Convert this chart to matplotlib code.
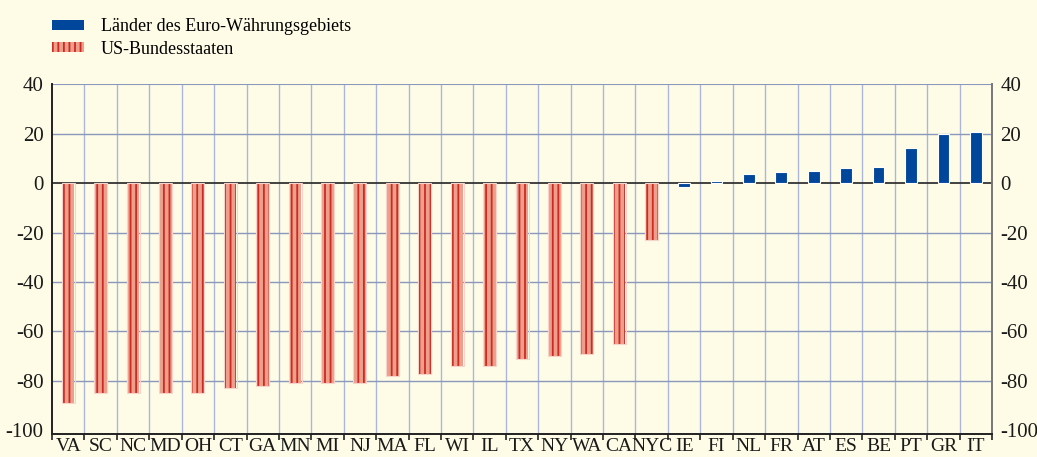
import matplotlib.pyplot as plt
import matplotlib.patches as mpatches
import numpy as np

# Veränderung in %, von links nach rechts
us_states = ["VA", "SC", "NC", "MD", "OH", "CT", "GA", "MN", "MI", "NJ",
             "MA", "FL", "WI", "IL", "TX", "NY", "WA", "CA", "NYC"]
us_values = [-89, -85, -85, -85, -85, -83, -82, -81, -81, -81,
             -78, -77, -74, -74, -71, -70, -69, -65, -23]

euro_countries = ["IE", "FI", "NL", "FR", "AT", "ES", "BE", "PT", "GR", "IT"]
euro_values = [-1.5, 1.0, 3.5, 4.5, 5.0, 6.0, 6.5, 14.0, 20.0, 20.5]

yticks = [40, 20, 0, -20, -40, -60, -80, -100]

bg = "#fefce6"
blue = "#00469b"
salmon = "#eca08c"
stripe = "#cc2a22"
grid_v = "#aab6dc"
grid_h = "#8c97bd"


def main():
   plt.rcParams['font.family'] = ['Liberation Serif', 'DejaVu Serif']
   plt.rcParams['hatch.linewidth'] = 1.3

   fig = plt.figure(figsize=(10.37, 4.57), dpi=100, facecolor=bg)
   ax = fig.add_axes([0.0502, 0.05, 0.9064, 0.766])
   ax.set_facecolor(bg)

   labels = us_states + euro_countries
   n = len(labels)
   x_us = np.arange(len(us_states))
   x_eu = np.arange(len(us_states), n)

   # grid
   for b in np.arange(1, n):
      ax.axvline(b - 0.5, color=grid_v, lw=1.0, zorder=1)
   for t in yticks:
      if t not in (0, -100, 40):
         ax.axhline(t, color=grid_h, lw=1.0, zorder=1)
   ax.axhline(40, color=grid_h, lw=1.5, zorder=1)

   ax.bar(x_us, us_values, width=0.38, color=salmon, edgecolor=stripe,
          hatch="|||", linewidth=0, zorder=3)
   ax.bar(x_us, us_values, width=0.40, facecolor="none", edgecolor="#f6d4cc",
          linewidth=0.8, zorder=3)
   ax.bar(x_eu, euro_values, width=0.36, color=blue, edgecolor="white",
          linewidth=0.8, zorder=3)

   ax.axhline(0, color="#333333", lw=1.3, zorder=2)

   ax.set_xlim(-0.5, n - 0.5)
   ax.set_ylim(-101.5, 40)

   ax.set_yticks(yticks)
   ax.set_yticklabels([str(t) for t in yticks], fontsize=15, color="#1a1a1a")
   ax.tick_params(axis="y", length=0, pad=6, right=True, labelright=True)

   ax.set_xticks(np.arange(n))
   ax.set_xticklabels(labels, fontsize=14, color="#1a1a1a")
   ax.set_xticks(np.arange(n + 1) - 0.5, minor=True)
   ax.tick_params(axis="x", which="major", length=0, pad=3)
   ax.tick_params(axis="x", which="minor", length=4, width=1.2, color="#222222", direction="out")

   ax.spines["top"].set_visible(False)
   ax.spines["left"].set_color("#222222")
   ax.spines["left"].set_linewidth(1.4)
   ax.spines["right"].set_color("#777777")
   ax.spines["right"].set_linewidth(1.4)
   ax.spines["bottom"].set_color("#222222")
   ax.spines["bottom"].set_linewidth(1.4)

   handles = [
      mpatches.Patch(facecolor=blue, edgecolor="none", label="Länder des Euro-Währungsgebiets"),
      mpatches.Patch(facecolor=salmon, edgecolor=stripe, hatch="|||", linewidth=0,
                     label="US-Bundesstaaten"),
   ]
   fig.legend(handles=handles, loc="upper left", bbox_to_anchor=(0.05, 0.96),
              frameon=False, fontsize=13, handlelength=1.8, handleheight=0.45,
              handletextpad=0.9, labelspacing=0.3, borderpad=0, borderaxespad=0)

   fig.savefig("out.png", dpi=100, facecolor=bg)


if __name__ == "__main__":
   main()
